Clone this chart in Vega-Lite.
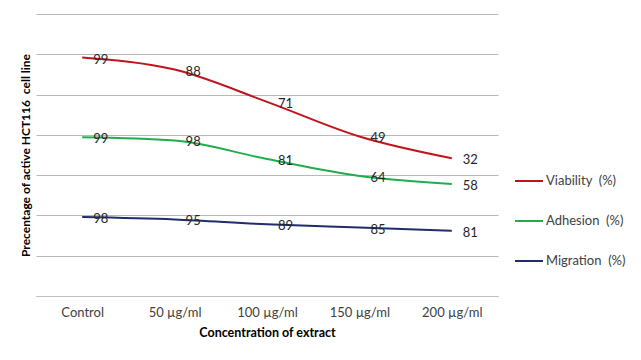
{
  "$schema": "https://vega.github.io/schema/vega-lite/v6.json",
  "width": 462,
  "height": 282,
  "autosize": {"type": "none"},
  "padding": {"left": 36, "top": 14, "right": 143, "bottom": 64},
  "background": "white",
  "config": {
    "view": {"stroke": null},
    "font": "Lato",
    "axis": {"labelFont": "Lato", "titleFont": "Lato"},
    "legend": {"labelFont": "Lato"}
  },
  "data": {
    "values": [
      {"series": "Viability\u00a0 (%)", "rank": 3, "conc": "Control", "xi": 0, "value": 99},
      {"series": "Viability\u00a0 (%)", "rank": 3, "conc": "50 µg/ml", "xi": 1, "value": 88},
      {"series": "Viability\u00a0 (%)", "rank": 3, "conc": "100 µg/ml", "xi": 2, "value": 71},
      {"series": "Viability\u00a0 (%)", "rank": 3, "conc": "150 µg/ml", "xi": 3, "value": 49},
      {"series": "Viability\u00a0 (%)", "rank": 3, "conc": "200 µg/ml", "xi": 4, "value": 32},
      {"series": "Adhesion\u00a0 (%)", "rank": 2, "conc": "Control", "xi": 0, "value": 99},
      {"series": "Adhesion\u00a0 (%)", "rank": 2, "conc": "50 µg/ml", "xi": 1, "value": 98},
      {"series": "Adhesion\u00a0 (%)", "rank": 2, "conc": "100 µg/ml", "xi": 2, "value": 81},
      {"series": "Adhesion\u00a0 (%)", "rank": 2, "conc": "150 µg/ml", "xi": 3, "value": 64},
      {"series": "Adhesion\u00a0 (%)", "rank": 2, "conc": "200 µg/ml", "xi": 4, "value": 58},
      {"series": "Migration\u00a0 (%)", "rank": 1, "conc": "Control", "xi": 0, "value": 98},
      {"series": "Migration\u00a0 (%)", "rank": 1, "conc": "50 µg/ml", "xi": 1, "value": 95},
      {"series": "Migration\u00a0 (%)", "rank": 1, "conc": "100 µg/ml", "xi": 2, "value": 89},
      {"series": "Migration\u00a0 (%)", "rank": 1, "conc": "150 µg/ml", "xi": 3, "value": 85},
      {"series": "Migration\u00a0 (%)", "rank": 1, "conc": "200 µg/ml", "xi": 4, "value": 81}
    ]
  },
  "transform": [
    {"stack": "value", "groupby": ["conc"], "sort": [{"field": "rank", "order": "ascending"}], "as": ["y0", "y1"]}
  ],
  "encoding": {
    "x": {
      "field": "conc",
      "type": "ordinal",
      "sort": ["Control", "50 µg/ml", "100 µg/ml", "150 µg/ml", "200 µg/ml"],
      "scale": {"type": "point", "padding": 0.5},
      "axis": {
        "title": "Concentration of extract",
        "titleFontSize": 12.5,
        "titleFontWeight": "bold",
        "titleColor": "#000000",
        "titlePadding": 7,
        "labelAngle": 0,
        "labelFontSize": 13,
        "labelColor": "#404040",
        "labelPadding": 10,
        "ticks": false,
        "domainColor": "#bfbfbf",
        "grid": false
      }
    },
    "y": {
      "field": "y1",
      "type": "quantitative",
      "scale": {"domain": [0, 350], "nice": false},
      "axis": {
        "title": "Precentage of active HCT116\u00a0 cell line",
        "titleFontSize": 12,
        "titleFontWeight": "bold",
        "titleColor": "#000000",
        "titlePadding": 4,
        "labels": false,
        "ticks": false,
        "domain": false,
        "values": [0, 50, 100, 150, 200, 250, 300, 350],
        "gridColor": "#b8b8b8",
        "gridWidth": 1
      }
    }
  },
  "layer": [
    {
      "mark": {"type": "line", "strokeWidth": 2, "interpolate": "monotone"},
      "encoding": {
        "order": {"field": "xi", "type": "quantitative"},
        "color": {
          "field": "series",
          "type": "nominal",
          "sort": ["Viability\u00a0 (%)", "Adhesion\u00a0 (%)", "Migration\u00a0 (%)"],
          "scale": {
            "domain": ["Viability\u00a0 (%)", "Adhesion\u00a0 (%)", "Migration\u00a0 (%)"],
            "range": ["#c0141c", "#1fae4b", "#1f2d6b"]
          },
          "legend": {
            "title": null,
            "orient": "none",
            "legendX": 478,
            "legendY": 152,
            "symbolType": "stroke",
            "symbolSize": 784,
            "symbolStrokeWidth": 2,
            "labelFontSize": 13,
            "labelColor": "#404040",
            "labelOffset": 2,
            "rowPadding": 18
          }
        }
      }
    },
    {
      "mark": {"type": "text", "align": "left", "baseline": "middle", "dx": 11, "dy": 2, "fontSize": 13, "color": "#262626"},
      "encoding": {
        "text": {"field": "value", "type": "quantitative"}
      }
    }
  ]
}
